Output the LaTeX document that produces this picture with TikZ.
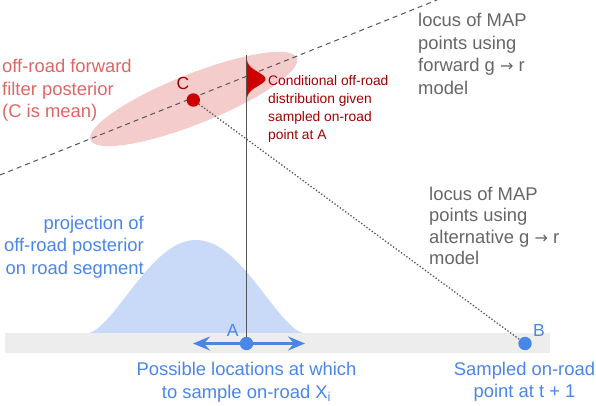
\documentclass[tikz,border=0pt]{standalone}
\usepackage{fontspec}
\setmainfont{Liberation Sans}
\newfontfamily\arrowfont{DejaVu Sans}
\usetikzlibrary{arrows.meta}
\definecolor{pinkell}{HTML}{F4CCCC}
\definecolor{redc}{HTML}{CC0000}
\definecolor{redtext}{HTML}{E06666}
\definecolor{darkred}{HTML}{A00000}
\definecolor{graytext}{HTML}{666666}
\definecolor{bluec}{HTML}{4A86E8}
\definecolor{gausscol}{HTML}{C9DAF8}
\definecolor{roadcol}{HTML}{EDEDED}
\definecolor{linecol}{HTML}{555555}
\newcommand{\garrow}{{\arrowfont\fontsize{16}{16}\selectfont\char"2192}}
\tikzset{
  lbl/.style={inner sep=0pt, anchor=base west, align=left},
  dotnode/.style={circle, inner sep=0pt, minimum size=13.4pt},
  bigfont/.style={font=\fontsize{18.4}{22.5}\selectfont},
  headtip/.tip={Stealth[length=17pt,width=14pt,inset=6pt]},
}
\begin{document}
\begin{tikzpicture}[x=1pt,y=-1pt]
\useasboundingbox (0,0) rectangle (596,406);
% ellipse posterior
\fill[pinkell, rotate around={21.7:(193.7,99)}] (193.7,99) ellipse [x radius=111, y radius=25];
% projection bump
\fill[gausscol] (88,333) -- plot[domain=88.5:303.5,samples=100] (\x,{333-93*(1-((\x-196)/108)^2)^1.7}) -- (304,333) -- cycle;
% road
\fill[roadcol] (5,333) rectangle (550,353);
% dashed locus
\coordinate (d1) at (0,175);
\coordinate (d2) at (437,0);
\draw[linecol, line width=1pt, dash pattern=on 5pt off 4pt] (d1) -- (d2);
% conditional red distribution
\fill[redc] plot[domain=57:101,samples=60] ({246.5+19*exp(-((\x-79)^2)/98)},\x) -- cycle;
% dots
\node[dotnode, fill=redc] (C) at (193.3,100) {};
\node[dotnode, fill=bluec] (A) at (246.5,343.5) {};
\node[dotnode, fill=bluec] (B) at (525,343.5) {};
\coordinate (top) at (246.5,55);
\draw[linecol, line width=1.2pt] (top) -- (A);
\draw[linecol, line width=1.3pt, dotted] (C) -- (B);
% arrow
\coordinate (al) at (193,343.5);
\coordinate (ar) at (305,343.5);
\draw[bluec, line width=3.2pt, headtip-headtip] (al) -- (ar);
% labels
\node[lbl, text=darkred, font=\fontsize{17.5}{20}\selectfont] (Cl) at (176.5,90) {C};
\node[lbl, text=bluec, font=\fontsize{17.5}{20}\selectfont] (Al) at (226.7,336) {A};
\node[lbl, text=bluec, font=\fontsize{17.5}{20}\selectfont] (Bl) at (533,336.5) {B};
\node[lbl, bigfont, text=redtext] (post) at (2,118) {off-road forward\\filter posterior\\(C is mean)};
\node[lbl, text=darkred, font=\fontsize{13.8}{18}\selectfont] (cond) at (268,139.7) {Conditional off-road\\distribution given\\sampled on-road\\point at A};
\node[lbl, bigfont, text=graytext] (loc1) at (418,94.2) {locus of MAP\\points using\\forward g \garrow{} r\\model};
\node[lbl, text=graytext, font=\fontsize{18.4}{21.5}\selectfont] (loc2) at (429,264.5) {locus of MAP\\points using\\alternative g \garrow{} r\\model};
\node[inner sep=0pt, anchor=base east, align=right, bigfont, text=bluec] (proj) at (144,274.3) {projection of\\off-road posterior\\on road segment};
\node[inner sep=0pt, anchor=base, align=center, bigfont, text=bluec] (poss) at (246.5,398.2) {Possible locations at which\\to sample on-road X\textsubscript{i}};
\node[inner sep=0pt, anchor=base, align=center, bigfont, text=bluec] (samp) at (524.5,397.7) {Sampled on-road\\point at t + 1};
\end{tikzpicture}
\end{document}
